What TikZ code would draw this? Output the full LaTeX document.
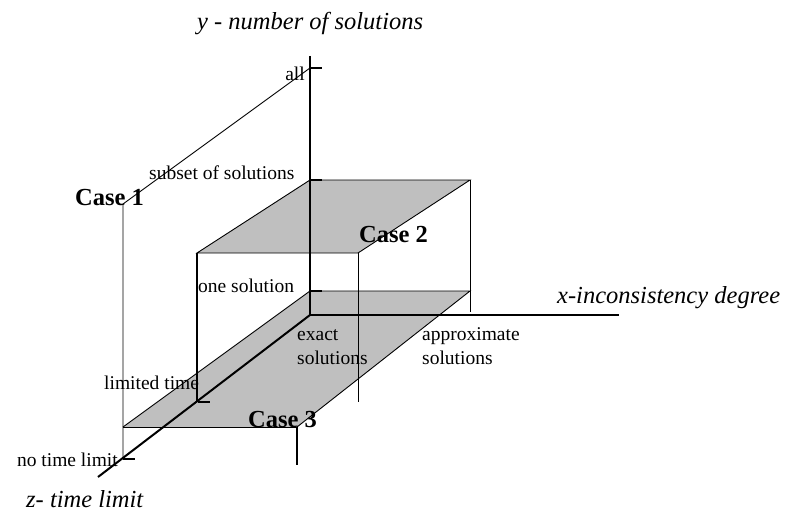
\documentclass[tikz,border=0pt]{standalone}
\usepackage{fontspec}
\setmainfont{Liberation Serif}
\begin{document}
\begin{tikzpicture}[x=1pt,y=-1pt,
  axis/.style={line width=2pt},
  thinline/.style={line width=0.9pt},
  medline/.style={line width=1.4pt},
  tick/.style={line width=1.6pt},
  planefill/.style={fill=black!25},
  lbl/.style={inner sep=0pt,font=\fontsize{19.5}{22}\selectfont},
  axlbl/.style={inner sep=0pt,font=\fontsize{24.5}{28}\selectfont\itshape},
  caselbl/.style={inner sep=0pt,font=\fontsize{24.5}{28}\selectfont\bfseries}]
\useasboundingbox (0,0) rectangle (787,516);
% key points
\coordinate (O) at (310,315);
\coordinate (ytop) at (310,56);
\coordinate (xend) at (619,315);
\coordinate (zend) at (98,477);
\coordinate (tall) at (310,68);
\coordinate (tsub) at (310,180);
\coordinate (tone) at (310,291);
\coordinate (tlim) at (198,402);
\coordinate (tnol) at (123,459);
% lower plane
\coordinate (L1) at (310,291);
\coordinate (L2) at (470,291);
\coordinate (L3) at (297,427);
\coordinate (L4) at (123,427);
% upper plane
\coordinate (U1) at (310,180);
\coordinate (U2) at (470,180);
\coordinate (U3) at (358,253);
\coordinate (U4) at (197,253);
% other ends
\coordinate (C1) at (123,204);
\coordinate (v197) at (197,402);
\coordinate (v358) at (358,402);
\coordinate (v470) at (470,312);
\coordinate (v297) at (297,465);
% fills
\fill[planefill] (L1) -- (L2) -- (L3) -- (L4) -- cycle;
\fill[planefill] (U1) -- (U2) -- (U3) -- (U4) -- cycle;
% plane edges
\draw[thinline] (L1) -- (L2) -- (L3);
\draw[thinline] (L1) -- (L4);
\draw[thinline] (L4) -- (L3);
\draw[thinline] (U1) -- (U2) -- (U3) -- (U4) -- cycle;
% case 1 box
\draw[thinline] (tall) -- (C1) -- (tnol);
% verticals
\draw[axis] (U4) -- (v197);
\draw[thinline] (U3) -- (v358);
\draw[thinline] (U2) -- (v470);
\draw[medline] (L3) -- (v297);
% axes
\draw[axis] (ytop) -- (O);
\draw[axis] (O) -- (xend);
\draw[axis] (O) -- (zend);
% ticks
\draw[tick] (tall) -- ++(12,0);
\draw[tick] (tsub) -- ++(12,0);
\draw[tick] (tone) -- ++(12,0);
\draw[tick] (tlim) -- ++(12,0);
\draw[tick] (tnol) -- ++(12,0);
% labels
\node[axlbl,anchor=base west] (ylab) at (197,30) {y - number of solutions};
\node[axlbl,anchor=base west] (xlab) at (557,303) {x-inconsistency degree};
\node[axlbl,anchor=base west] (zlab) at (26,507) {z- time limit};
\node[lbl,anchor=base east] (lall) at (305,81) {all};
\node[lbl,anchor=base west] (lsub) at (149,179) {subset of solutions};
\node[lbl,anchor=base west] (lone) at (198,292) {one solution};
\node[lbl,anchor=base west] (llim) at (104,389) {limited time};
\node[lbl,anchor=base east] (lnol) at (118,466) {no time limit};
\node[lbl,anchor=base west] (lex1) at (297,340) {exact};
\node[lbl,anchor=base west] (lex2) at (297,364) {solutions};
\node[lbl,anchor=base west] (lap1) at (422,340) {approximate};
\node[lbl,anchor=base west] (lap2) at (422,364) {solutions};
\node[caselbl,anchor=base west] (case1) at (75,205) {Case 1};
\node[caselbl,anchor=base west] (case2) at (359,242) {Case 2};
\node[caselbl,anchor=base west] (case3) at (248,427) {Case 3};
\end{tikzpicture}
\end{document}
